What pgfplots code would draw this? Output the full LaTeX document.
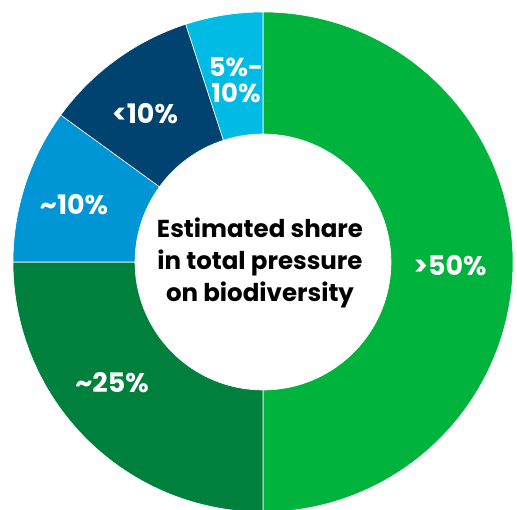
\documentclass[border=0pt]{standalone}
\usepackage{pgfplots}
\pgfplotsset{compat=1.18}
\usepackage{pgfplotstable}
\usepackage{fontspec}
\setmainfont{Poppins}

\definecolor{segA}{HTML}{00B33C}
\definecolor{segB}{HTML}{00803D}
\definecolor{segC}{HTML}{0096D6}
\definecolor{segD}{HTML}{004370}
\definecolor{segE}{HTML}{00BCE4}

% shares in percent, clockwise from the top
\pgfplotstableread{
share colour
50 segA
25 segB
10 segC
10 segD
5  segE
}\shares

\begin{document}
\begin{tikzpicture}
\useasboundingbox (0,0) rectangle (517bp,510bp);
\begin{axis}[
  at={(0,0)}, anchor=south west,
  scale only axis, width=517bp, height=510bp,
  xmin=0, xmax=517, ymin=0, ymax=510,
  hide axis, clip=true,
]
\pgfplotstablegetrowsof{\shares}
\pgfmathtruncatemacro{\lastrow}{\pgfplotsretval-1}
\gdef\startangle{90}
\pgfplotsforeachungrouped \i in {0,...,\lastrow}{
  \pgfplotstablegetelem{\i}{share}\of\shares \let\sh\pgfplotsretval
  \pgfplotstablegetelem{\i}{colour}\of\shares \let\col\pgfplotsretval
  \pgfmathsetmacro{\endangle}{\startangle-3.6*\sh}
  \edef\cmd{\noexpand\fill[\col, draw=white, line width=0.6bp]
    (axis cs:263,248) ++(\startangle:250bp)
    arc[start angle=\startangle, end angle=\endangle, radius=250bp]
    -- ++(\endangle:-122bp)
    arc[start angle=\endangle, end angle=\startangle, radius=128bp] -- cycle;}
  \cmd
  \xdef\startangle{\endangle}
}
\node[align=center, text=black, font=\bfseries\fontsize{24.6}{32}\selectfont]
  at (axis cs:260,247) {Estimated share\\in total pressure\\on biodiversity};
\begin{scope}[every node/.style={text=white, align=center,
    font=\bfseries\fontsize{27}{24}\selectfont}]
  \node at (axis cs:450,244) {>50\%};
  \node at (axis cs:112,127) {\textasciitilde25\%};
  \node at (axis cs:74,305) {\textasciitilde10\%};
  \node at (axis cs:145,396) {<10\%};
\end{scope}
\node[text=white, align=center, font=\bfseries\fontsize{26}{26.5}\selectfont]
  at (axis cs:236,430) {5\%-\\10\%};
\end{axis}
\end{tikzpicture}
\end{document}
